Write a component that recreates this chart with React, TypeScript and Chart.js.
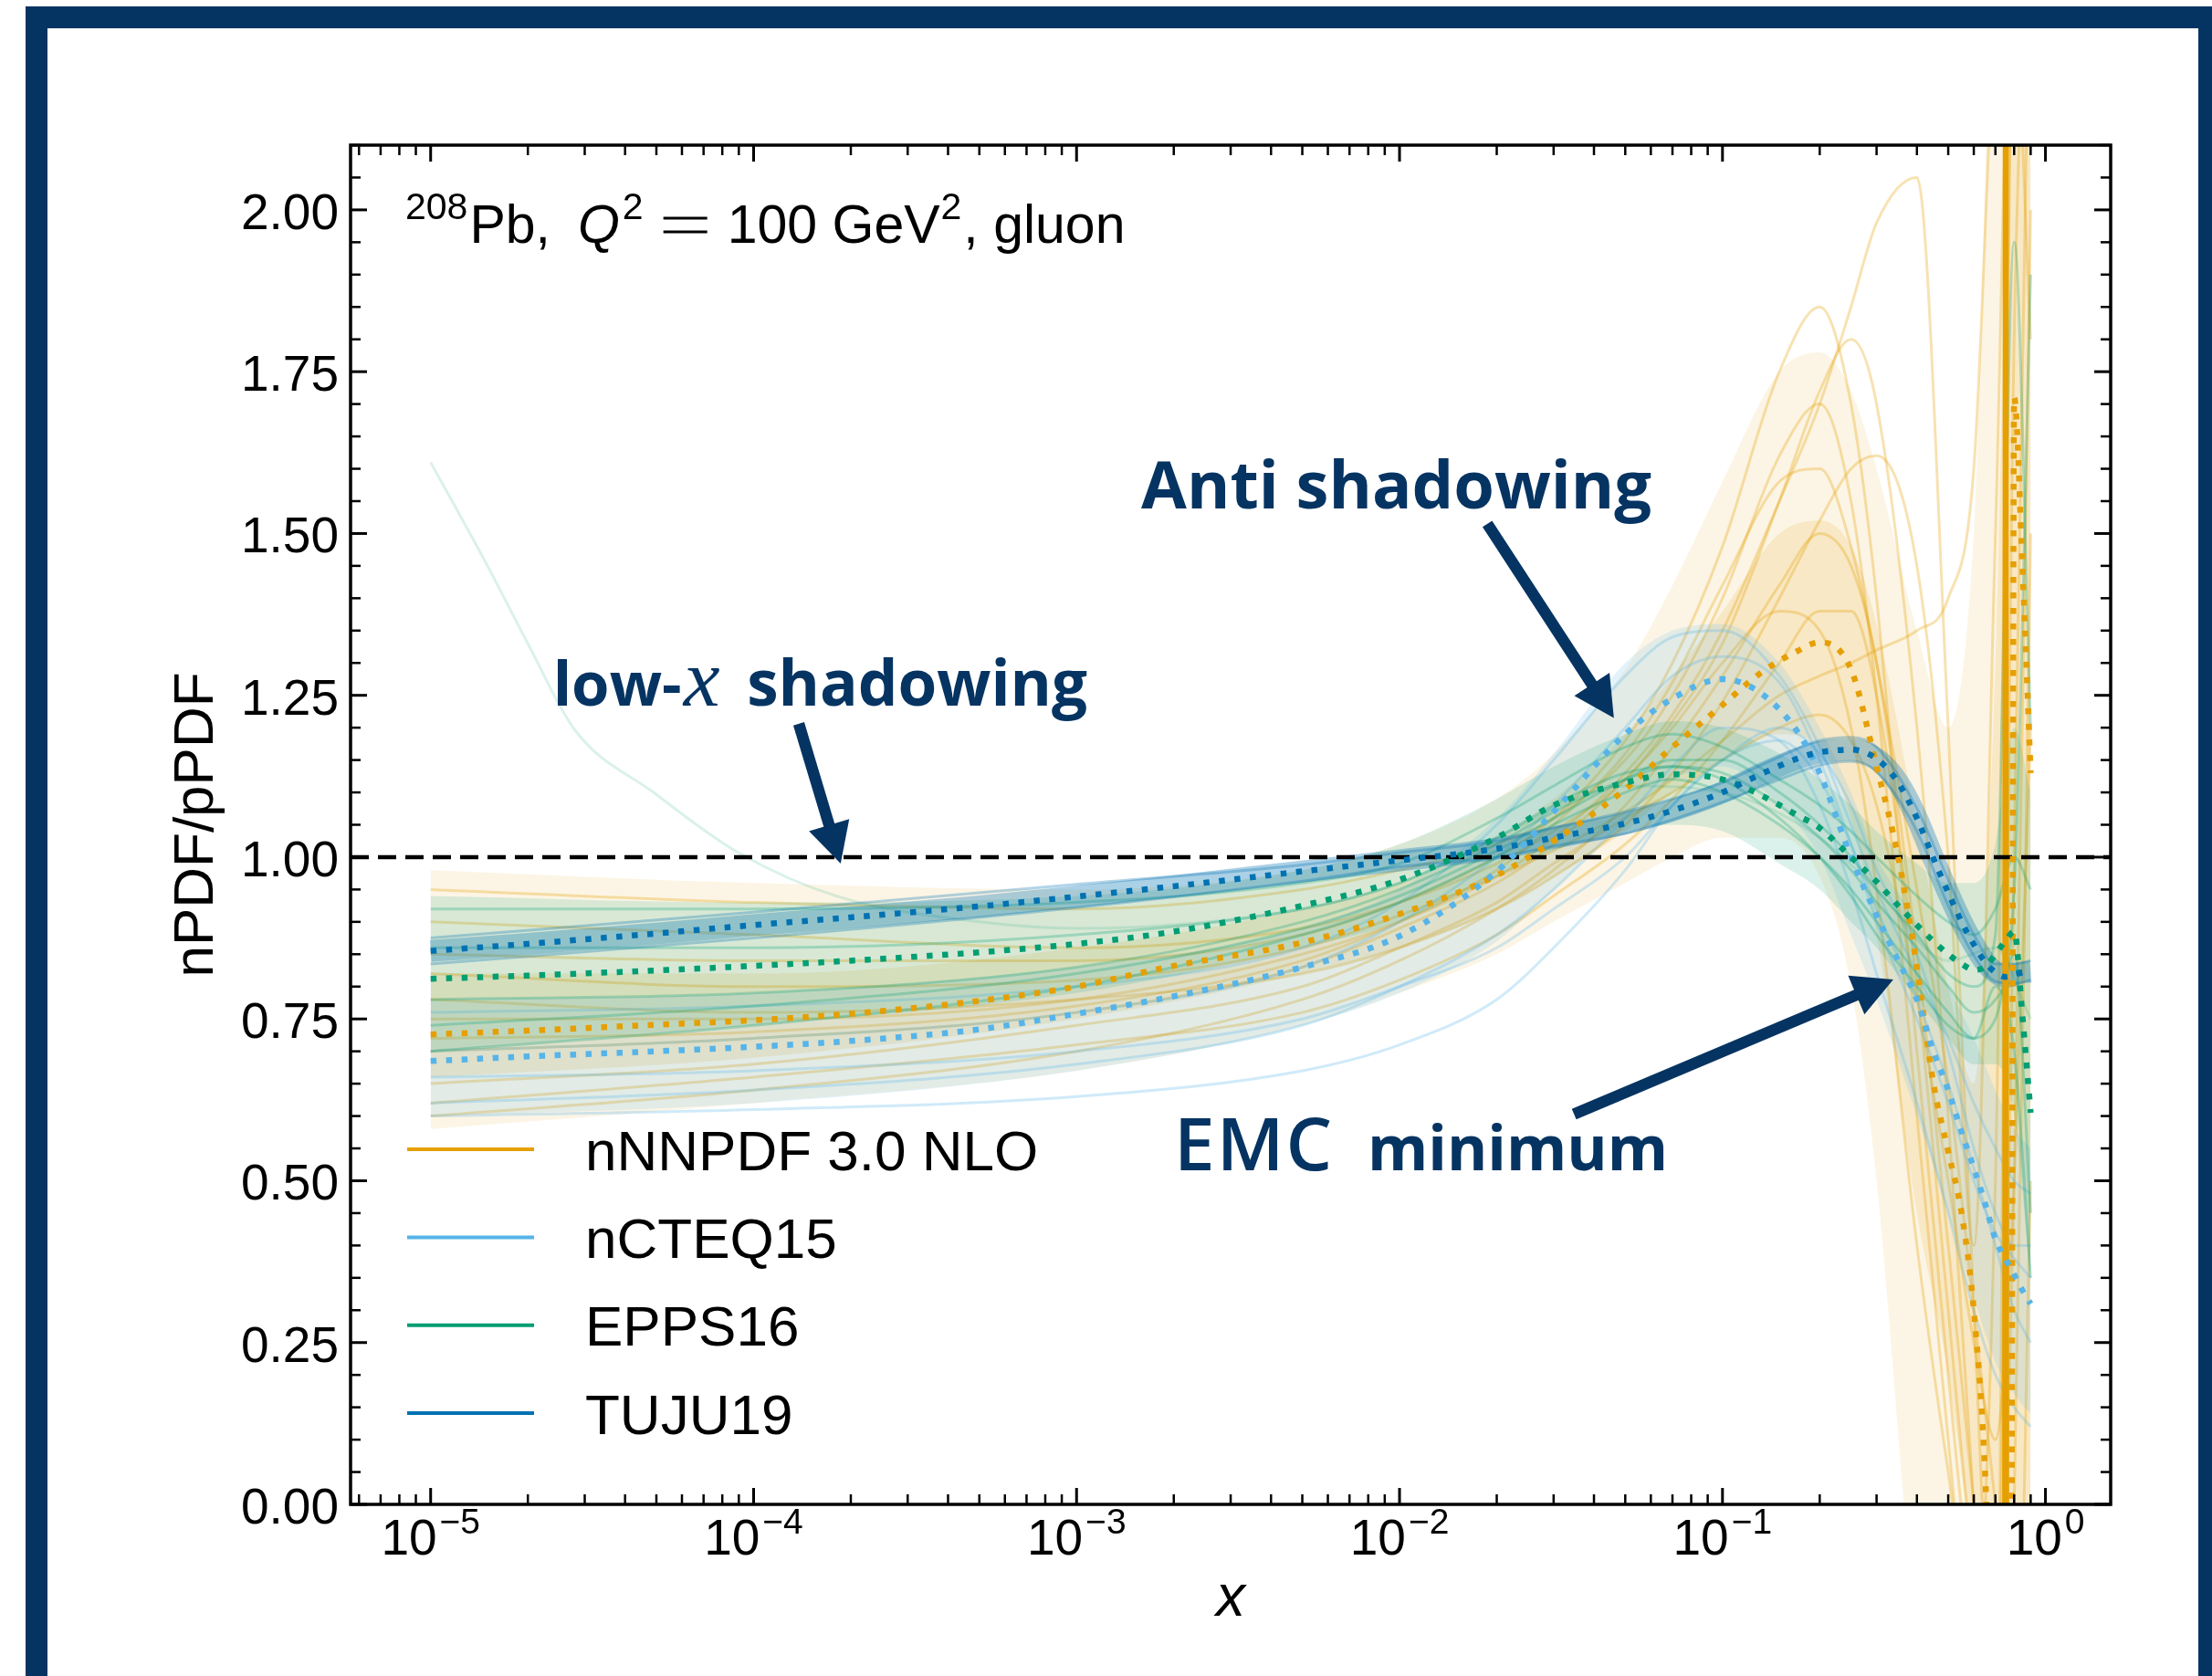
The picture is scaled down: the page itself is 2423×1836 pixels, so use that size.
import React, { useEffect, useRef } from "react";
import { Chart, registerables } from "chart.js";

Chart.register(...registerables);

// ---------------- axes ----------------
const X_AXIS_MIN = 5.65e-6;
const X_AXIS_MAX = 1.592;
const Y_AXIS_MIN = 0;
const Y_AXIS_MAX = 2.1;
const Y_MAJOR_TICKS = [0, 0.25, 0.5, 0.75, 1.0, 1.25, 1.5, 1.75, 2.0];
const Y_TICK_LABELS = ["0.00", "0.25", "0.50", "0.75", "1.00", "1.25", "1.50", "1.75", "2.00"];
const Y_MINOR_STEP = 0.05;
const X_MAJOR_EXPONENTS = [-5, -4, -3, -2, -1, 0];
const X_MINOR_MULTIPLIERS = [2, 3, 4, 5, 6, 7, 8, 9];
const REFERENCE_LEVEL = 1.0;

const SERIES_LABELS = ["nNNPDF 3.0 NLO", "nCTEQ15", "EPPS16", "TUJU19"];
const SERIES_RGB = ["230,159,0", "86,180,233", "0,158,115", "0,114,178"];

// ---------------- central values ----------------
const X_CENTRAL = [1e-5, 2e-5, 5e-5, 1e-4, 2e-4, 5e-4, 1e-3, 2e-3, 5e-3, 1e-2, 0.02, 0.03, 0.05, 0.07, 0.1, 0.13, 0.17, 0.2, 0.25, 0.3, 0.35, 0.4, 0.45, 0.5, 0.55, 0.6, 0.65, 0.7, 0.75, 0.8, 0.85, 0.9];
const X_NNPDF = [1e-5, 2e-5, 5e-5, 1e-4, 2e-4, 5e-4, 1e-3, 2e-3, 5e-3, 1e-2, 0.02, 0.03, 0.05, 0.07, 0.1, 0.13, 0.17, 0.2, 0.25, 0.3, 0.35, 0.4, 0.45, 0.5, 0.55, 0.6, 0.65, 0.7, 0.75, 0.78, 0.8, 0.85, 0.9];

const NNPDF_CENTRAL = [0.726, 0.732, 0.741, 0.748, 0.758, 0.778, 0.8, 0.832, 0.868, 0.912, 0.972, 1.025, 1.105, 1.17, 1.235, 1.283, 1.318, 1.332, 1.29, 1.14, 1.0, 0.83, 0.65, 0.545, 0.45, 0.3, 0.05, -0.4, -0.6, -0.6, 1.71, 1.44, 1.13];
const NCTEQ_CENTRAL = [0.685, 0.692, 0.7, 0.707, 0.716, 0.734, 0.758, 0.785, 0.83, 0.878, 0.978, 1.07, 1.19, 1.245, 1.275, 1.255, 1.195, 1.13, 1.0, 0.91, 0.84, 0.78, 0.7, 0.64, 0.575, 0.52, 0.465, 0.41, 0.38, 0.355, 0.33, 0.31];
const EPPS_CENTRAL = [0.812, 0.817, 0.825, 0.832, 0.84, 0.853, 0.866, 0.885, 0.925, 0.965, 1.03, 1.08, 1.115, 1.128, 1.12, 1.097, 1.065, 1.045, 1.0, 0.962, 0.925, 0.895, 0.87, 0.85, 0.835, 0.826, 0.83, 0.85, 0.87, 0.885, 0.75, 0.605];
const TUJU_CENTRAL = [0.855, 0.866, 0.882, 0.895, 0.907, 0.924, 0.939, 0.955, 0.978, 0.995, 1.013, 1.03, 1.052, 1.072, 1.1, 1.127, 1.152, 1.162, 1.166, 1.152, 1.115, 1.06, 0.998, 0.945, 0.9, 0.865, 0.838, 0.822, 0.815, 0.818, 0.822, 0.823];

// nNNPDF large-x spike of the solid line
const NNPDF_SPIKE_X = [0.748, 0.753, 0.758];
const NNPDF_SPIKE_Y = [-0.6, 2.7, -0.6];

// ---------------- replica grid, bands ----------------
const X_REP = [1e-5, 1e-4, 1e-3, 5e-3, 0.01, 0.02, 0.03, 0.05, 0.07, 0.1, 0.15, 0.2, 0.25, 0.3, 0.4, 0.5, 0.6, 0.7, 0.8, 0.9];

const NNPDF_OUTER_LO = [0.58, 0.62, 0.67, 0.74, 0.79, 0.85, 0.9, 0.96, 1.0, 1.03, 1.03, 0.97, 0.8, 0.5, -0.2, -0.4, -0.4, -0.4, -0.4, -0.4];
const NNPDF_OUTER_HI = [0.98, 0.96, 0.95, 0.98, 1.02, 1.09, 1.16, 1.29, 1.42, 1.58, 1.75, 1.78, 1.72, 1.6, 1.35, 1.2, 1.5, 2.4, 2.4, 2.4];
const NNPDF_INNER_LO = [0.66, 0.69, 0.75, 0.82, 0.86, 0.92, 0.97, 1.04, 1.1, 1.15, 1.19, 1.17, 1.06, 0.88, 0.45, 0.2, -0.1, -0.4, -0.4, -0.4];
const NNPDF_INNER_HI = [0.82, 0.82, 0.86, 0.92, 0.96, 1.03, 1.09, 1.19, 1.28, 1.38, 1.5, 1.52, 1.48, 1.36, 1.05, 0.8, 0.65, 1.3, 2.4, 2.2];
const NCTEQ_LO = [0.6, 0.62, 0.67, 0.74, 0.79, 0.87, 0.95, 1.06, 1.12, 1.14, 1.08, 1.0, 0.88, 0.78, 0.6, 0.45, 0.32, 0.22, 0.17, 0.14];
const NCTEQ_HI = [0.78, 0.79, 0.83, 0.89, 0.95, 1.06, 1.16, 1.3, 1.35, 1.36, 1.3, 1.2, 1.1, 1.0, 0.9, 0.8, 0.72, 0.64, 0.58, 0.55];
const EPPS_LO = [0.7, 0.74, 0.79, 0.86, 0.9, 0.97, 1.01, 1.04, 1.05, 1.04, 0.99, 0.95, 0.9, 0.86, 0.78, 0.72, 0.68, 0.68, 0.6, 0.35];
const EPPS_HI = [0.94, 0.93, 0.94, 0.98, 1.02, 1.09, 1.14, 1.19, 1.21, 1.2, 1.16, 1.12, 1.08, 1.04, 0.99, 0.96, 0.96, 1.02, 1.2, 1.1];

const NNPDF_REPLICAS = [
  [0.95, 0.93, 0.92, 0.95, 0.98, 1.02, 1.06, 1.15, 1.25, 1.4, 1.62, 1.7, 1.55, 1.25, 0.6, 0.1, -0.3, -0.5, 1.0, 2.5],
  [0.6, 0.64, 0.7, 0.78, 0.84, 0.92, 0.98, 1.08, 1.17, 1.28, 1.42, 1.5, 1.45, 1.3, 0.85, 0.4, 0.0, -0.4, 2.5, 2.5],
  [0.7, 0.72, 0.76, 0.83, 0.89, 0.96, 1.02, 1.12, 1.2, 1.3, 1.38, 1.35, 1.2, 0.95, 0.4, 0.05, -0.2, 0.5, 2.3, 1.8],
  [0.85, 0.84, 0.84, 0.88, 0.93, 1.0, 1.06, 1.18, 1.3, 1.48, 1.75, 1.85, 1.7, 1.4, 0.7, 0.2, -0.2, -0.5, -0.5, 0.5],
  [0.65, 0.68, 0.74, 0.8, 0.86, 0.93, 0.99, 1.06, 1.1, 1.15, 1.2, 1.22, 1.18, 1.08, 0.78, 0.5, 0.25, 0.1, 0.5, 1.2],
  [0.78, 0.76, 0.78, 0.82, 0.86, 0.92, 0.97, 1.05, 1.13, 1.24, 1.4, 1.52, 1.6, 1.62, 1.45, 1.0, 0.4, 1.5, 2.5, 2.5],
  [0.62, 0.66, 0.71, 0.76, 0.81, 0.88, 0.94, 1.02, 1.09, 1.18, 1.3, 1.38, 1.38, 1.25, 0.8, 0.3, -0.1, -0.3, 0.0, 1.5],
  [0.9, 0.88, 0.86, 0.89, 0.93, 0.99, 1.04, 1.12, 1.21, 1.33, 1.55, 1.72, 1.8, 1.7, 1.2, 0.6, 0.0, -0.4, 1.8, 2.5],
  [0.72, 0.73, 0.77, 0.84, 0.9, 0.98, 1.05, 1.16, 1.27, 1.42, 1.58, 1.6, 1.48, 1.3, 0.95, 0.65, 0.3, 0.0, -0.3, -0.3],
  [0.82, 0.8, 0.81, 0.86, 0.91, 0.97, 1.01, 1.07, 1.12, 1.18, 1.25, 1.28, 1.3, 1.32, 1.35, 1.4, 1.6, 2.3, 2.5, 2.5],
  [0.75, 0.75, 0.78, 0.85, 0.9, 0.97, 1.03, 1.13, 1.22, 1.35, 1.55, 1.7, 1.85, 1.98, 2.05, 1.2, 0.3, -0.3, 0.5, 2.0],
];
const NCTEQ_REPLICAS = [
  [0.62, 0.64, 0.68, 0.74, 0.8, 0.88, 0.95, 1.06, 1.14, 1.2, 1.18, 1.08, 0.95, 0.82, 0.62, 0.45, 0.3, 0.2, 0.15, 0.12],
  [0.76, 0.77, 0.8, 0.86, 0.93, 1.05, 1.15, 1.28, 1.34, 1.35, 1.28, 1.17, 1.05, 0.95, 0.82, 0.72, 0.62, 0.55, 0.5, 0.48],
  [0.7, 0.72, 0.76, 0.83, 0.9, 1.0, 1.08, 1.2, 1.28, 1.31, 1.27, 1.15, 1.02, 0.9, 0.75, 0.62, 0.5, 0.42, 0.38, 0.35],
  [0.66, 0.67, 0.7, 0.75, 0.8, 0.86, 0.92, 1.0, 1.08, 1.15, 1.2, 1.16, 1.08, 0.98, 0.85, 0.7, 0.55, 0.45, 0.4, 0.4],
  [0.6, 0.61, 0.63, 0.67, 0.71, 0.78, 0.86, 0.98, 1.08, 1.15, 1.18, 1.12, 1.02, 0.92, 0.78, 0.65, 0.52, 0.4, 0.3, 0.25],
];
const EPPS_REPLICAS = [
  [0.7, 0.74, 0.8, 0.88, 0.93, 1.0, 1.05, 1.1, 1.12, 1.1, 1.05, 1.0, 0.95, 0.9, 0.82, 0.76, 0.72, 0.75, 0.85, 0.45],
  [0.92, 0.92, 0.93, 0.96, 0.99, 1.06, 1.11, 1.17, 1.19, 1.17, 1.12, 1.08, 1.04, 1.0, 0.94, 0.9, 0.88, 0.92, 1.0, 0.95],
  [0.78, 0.79, 0.83, 0.9, 0.95, 1.02, 1.07, 1.12, 1.14, 1.13, 1.08, 1.03, 0.98, 0.93, 0.86, 0.8, 0.76, 0.78, 0.95, 1.9],
  [0.86, 0.86, 0.88, 0.92, 0.96, 1.03, 1.08, 1.13, 1.14, 1.12, 1.06, 1.0, 0.94, 0.88, 0.8, 0.74, 0.72, 0.8, 0.7, 0.35],
  [0.74, 0.77, 0.82, 0.89, 0.94, 1.01, 1.06, 1.12, 1.15, 1.15, 1.1, 1.05, 1.0, 0.95, 0.88, 0.82, 0.8, 0.88, 1.95, 1.2],
];
// one EPPS16 replica rising steeply towards small x
const EPPS_STEEP_X = [1e-5, 1.5e-5, 2e-5, 2.8e-5, 4.9e-5, 8.9e-5, 1.8e-4, 5e-4, 1e-3, 5e-3, 0.01, 0.02, 0.05, 0.1, 0.2, 0.3, 0.5, 0.7, 0.9];
const EPPS_STEEP_Y = [1.61, 1.45, 1.33, 1.196, 1.1, 1.008, 0.94, 0.9, 0.89, 0.92, 0.96, 1.03, 1.11, 1.1, 1.03, 0.95, 0.84, 0.86, 0.75];
const TUJU_REPLICAS = [
  [0.875, 0.915, 0.958, 0.988, 1.007, 1.025, 1.045, 1.07, 1.09, 1.115, 1.155, 1.18, 1.185, 1.17, 1.075, 0.965, 0.88, 0.835, 0.835, 0.84],
  [0.835, 0.875, 0.922, 0.963, 0.985, 1.0, 1.017, 1.037, 1.058, 1.085, 1.12, 1.142, 1.148, 1.132, 1.04, 0.925, 0.848, 0.808, 0.805, 0.81],
];

// ---------------- annotations (data coordinates) ----------------
const ANNOT_ANTI = { x: 1.586e-3, y: 1.538 };
const ANNOT_LOWX = { x: 2.391e-5, y: 1.2345 };
const ANNOT_EMC = { x: 2.004e-3, y: 0.5155 };
const ARROWS = [
  { from: [1.38e-4, 1.206], to: [1.86e-4, 0.99] },
  { from: [0.0187, 1.515], to: [0.0461, 1.215] },
  { from: [0.0347, 0.603], to: [0.338, 0.811] },
];

const DARK = "#063462";
const SANS = '"Liberation Sans", Arial, Helvetica, sans-serif';
const BOLD = '"Open Sans", "Noto Sans", sans-serif';

const rgba = (rgb: string, a: number) => `rgba(${rgb},${a})`;
const toPoints = (xs: number[], ys: number[]) => xs.map((x, i) => ({ x, y: ys[i] }));

function buildDatasets() {
  const ds: any[] = [];
  const line = (xs: number[], ys: number[], color: string, width: number, extra: any = {}) => ({
    data: toPoints(xs, ys),
    borderColor: color,
    borderWidth: width,
    fill: false,
    cubicInterpolationMode: "monotone",
    pointRadius: 0,
    clip: 0,
    ...extra,
  });
  const band = (xs: number[], lo: number[], hi: number[], color: string) => {
    ds.push(line(xs, lo, "rgba(0,0,0,0)", 0));
    ds.push(line(xs, hi, "rgba(0,0,0,0)", 0, { fill: "-1", backgroundColor: color }));
  };
  const [O, LB, G, B] = SERIES_RGB;

  band(X_REP, NNPDF_OUTER_LO, NNPDF_OUTER_HI, rgba(O, 0.1));
  band(X_REP, NNPDF_INNER_LO, NNPDF_INNER_HI, rgba(O, 0.14));
  NNPDF_REPLICAS.forEach((r) => ds.push(line(X_REP, r, rgba(O, 0.3), 3)));

  band(X_REP, NCTEQ_LO, NCTEQ_HI, rgba(LB, 0.16));
  NCTEQ_REPLICAS.forEach((r) => ds.push(line(X_REP, r, rgba(LB, 0.28), 3)));

  band(X_REP, EPPS_LO, EPPS_HI, rgba(G, 0.14));
  EPPS_REPLICAS.forEach((r) => ds.push(line(X_REP, r, rgba(G, 0.28), 3)));
  ds.push(line(EPPS_STEEP_X, EPPS_STEEP_Y, rgba(G, 0.14), 3));

  ds.push(line(X_CENTRAL, TUJU_CENTRAL, rgba(B, 0.33), 24));
  TUJU_REPLICAS.forEach((r) => ds.push(line(X_REP, r, rgba(B, 0.3), 3)));

  ds.push(line(NNPDF_SPIKE_X, NNPDF_SPIKE_Y, rgba(O, 1), 6, { cubicInterpolationMode: "default", tension: 0 }));

  ds.push(
    line([X_AXIS_MIN, X_AXIS_MAX], [REFERENCE_LEVEL, REFERENCE_LEVEL], "#000", 4.5, {
      borderDash: [20, 10],
      cubicInterpolationMode: "default",
      tension: 0,
    })
  );

  const dotted = { borderDash: [6.5, 10.5], borderCapStyle: "butt" };
  ds.push(line(X_NNPDF, NNPDF_CENTRAL, rgba(O, 1), 6.5, dotted));
  ds.push(line(X_CENTRAL, NCTEQ_CENTRAL, rgba(LB, 1), 6.5, dotted));
  ds.push(line(X_CENTRAL, EPPS_CENTRAL, rgba(G, 1), 6.5, dotted));
  ds.push(line(X_CENTRAL, TUJU_CENTRAL, rgba(B, 1), 6.5, dotted));

  ds.forEach((d, i) => (d.order = ds.length - i));
  return ds;
}

function fitText(ctx: CanvasRenderingContext2D, text: string, x: number, y: number, width: number, font: (s: number) => string, base: number) {
  ctx.font = font(base);
  const w = ctx.measureText(text).width;
  let s = (base * width) / w;
  s = Math.max(base * 0.85, Math.min(base * 1.15, s));
  ctx.font = font(s);
  ctx.fillText(text, x, y);
}

function drawArrow(ctx: CanvasRenderingContext2D, x0: number, y0: number, x1: number, y1: number) {
  const ang = Math.atan2(y1 - y0, x1 - x0);
  const headLen = 44, headHalf = 23, shaft = 12.5;
  const c = Math.cos(ang), s = Math.sin(ang);
  const bx = x1 - headLen * c, by = y1 - headLen * s;
  ctx.strokeStyle = DARK;
  ctx.lineWidth = shaft;
  ctx.lineCap = "butt";
  ctx.beginPath();
  ctx.moveTo(x0, y0);
  ctx.lineTo(bx + 2 * c, by + 2 * s);
  ctx.stroke();
  ctx.fillStyle = DARK;
  ctx.beginPath();
  ctx.moveTo(x1, y1);
  ctx.lineTo(bx + headHalf * s, by - headHalf * c);
  ctx.lineTo(bx - headHalf * s, by + headHalf * c);
  ctx.closePath();
  ctx.fill();
}

const decorations = {
  id: "decorations",
  afterDraw(chart: any) {
    const { ctx, chartArea: ca, scales } = chart;
    const sx = scales.x, sy = scales.y;
    ctx.save();
    ctx.strokeStyle = "#000";
    ctx.lineCap = "butt";
    const tick = (x1: number, y1: number, x2: number, y2: number, w: number) => {
      ctx.lineWidth = w;
      ctx.beginPath();
      ctx.moveTo(x1, y1);
      ctx.lineTo(x2, y2);
      ctx.stroke();
    };
    // y ticks
    const nMinor = Math.round((Y_AXIS_MAX - Y_AXIS_MIN) / Y_MINOR_STEP);
    for (let i = 0; i <= nMinor; i++) {
      const v = Y_AXIS_MIN + i * Y_MINOR_STEP;
      const y = sy.getPixelForValue(v);
      const major = Y_MAJOR_TICKS.some((t) => Math.abs(t - v) < 1e-6);
      const len = major ? 18 : 11;
      const w = major ? 3 : 2.5;
      tick(ca.left, y, ca.left + len, y, w);
      tick(ca.right, y, ca.right - len, y, w);
    }
    // x ticks
    for (let e = -6; e <= 0; e++) {
      for (const m of [1, ...X_MINOR_MULTIPLIERS]) {
        const v = m * Math.pow(10, e);
        if (v < X_AXIS_MIN || v > X_AXIS_MAX) continue;
        const x = sx.getPixelForValue(v);
        const major = m === 1;
        const len = major ? 18 : 11;
        const w = major ? 3 : 2.5;
        tick(x, ca.bottom, x, ca.bottom - len, w);
        tick(x, ca.top, x, ca.top + len, w);
      }
    }
    // spines
    ctx.lineWidth = 3.5;
    ctx.strokeRect(ca.left, ca.top, ca.right - ca.left, ca.bottom - ca.top);

    // y tick labels
    ctx.fillStyle = "#000";
    ctx.font = `55px ${SANS}`;
    ctx.textAlign = "right";
    ctx.textBaseline = "alphabetic";
    Y_MAJOR_TICKS.forEach((v, i) => ctx.fillText(Y_TICK_LABELS[i], ca.left - 13, sy.getPixelForValue(v) + 21));

    // x tick labels
    ctx.textAlign = "left";
    X_MAJOR_EXPONENTS.forEach((e) => {
      const x = sx.getPixelForValue(Math.pow(10, e));
      ctx.font = `55px ${SANS}`;
      const w1 = ctx.measureText("10").width;
      const sup = e < 0 ? "\u2212" + Math.abs(e) : String(e);
      ctx.font = `39px ${SANS}`;
      const w2 = ctx.measureText(sup).width;
      const x0 = x - (w1 + 3 + w2) / 2;
      ctx.font = `55px ${SANS}`;
      ctx.fillText("10", x0, ca.bottom + 55);
      ctx.font = `39px ${SANS}`;
      ctx.fillText(sup, x0 + w1 + 3, ca.bottom + 32);
    });

    // axis titles
    ctx.font = `italic 64px ${SANS}`;
    ctx.textAlign = "center";
    ctx.fillText("x", (ca.left + ca.right) / 2, ca.bottom + 122);
    ctx.save();
    ctx.translate(ca.left - 151, (ca.top + ca.bottom) / 2);
    ctx.rotate(-Math.PI / 2);
    ctx.font = `62px ${SANS}`;
    ctx.fillText("nPDF/pPDF", 0, 0);
    ctx.restore();

    // legend
    ctx.textAlign = "left";
    SERIES_LABELS.forEach((lab, i) => {
      const y = ca.bottom - 100 - (SERIES_LABELS.length - 1 - i) * 96.3;
      ctx.strokeStyle = rgba(SERIES_RGB[i], 1);
      ctx.lineWidth = 4;
      ctx.beginPath();
      ctx.moveTo(ca.left + 62, y);
      ctx.lineTo(ca.left + 201, y);
      ctx.stroke();
      ctx.fillStyle = "#000";
      ctx.font = `62px ${SANS}`;
      ctx.fillText(lab, ca.left + 257, y + 22.5);
    });

    // title text inside axes
    const tx = ca.left + 60, tb = ca.top + 107, ts = ca.top + 81;
    ctx.fillStyle = "#000";
    ctx.textAlign = "left";
    let cx = tx;
    const put = (t: string, font: string, y: number, gapAfter: number) => {
      ctx.font = font;
      ctx.fillText(t, cx, y);
      cx += ctx.measureText(t).width + gapAfter;
    };
    const MAIN = `59px ${SANS}`;
    const SUP = `41px ${SANS}`;
    put("208", SUP, ts, 2);
    put("Pb,", MAIN, tb, 30);
    put("Q", `italic 59px ${SANS}`, tb, 3);
    put("2", SUP, ts, 22);
    // equals sign as two bars
    ctx.strokeStyle = "#000";
    ctx.lineWidth = 3;
    ctx.beginPath();
    ctx.moveTo(cx, tb - 27);
    ctx.lineTo(cx + 48, tb - 27);
    ctx.moveTo(cx, tb - 12);
    ctx.lineTo(cx + 48, tb - 12);
    ctx.stroke();
    cx += 48 + 22;
    put("100 GeV", MAIN, tb, 1);
    put("2", SUP, ts, 2);
    put(", gluon", MAIN, tb, 0);

    // annotations
    const bold = (s: number) => `700 ${s}px ${BOLD}`;
    const serifIt = (s: number) => `italic ${s}px "Liberation Serif", "DejaVu Serif", serif`;
    ctx.fillStyle = DARK;
    ctx.textAlign = "left";
    let ax = sx.getPixelForValue(ANNOT_ANTI.x), ay = sy.getPixelForValue(ANNOT_ANTI.y);
    fitText(ctx, "Anti shadowing", ax, ay, 559, bold, 72);
    ax = sx.getPixelForValue(ANNOT_LOWX.x);
    ay = sy.getPixelForValue(ANNOT_LOWX.y);
    fitText(ctx, "low-", ax, ay, 141, bold, 70);
    fitText(ctx, "x", ax + 143, ay, 41, serifIt, 78);
    fitText(ctx, "shadowing", ax + 212.5, ay, 373, bold, 70);
    ax = sx.getPixelForValue(ANNOT_EMC.x);
    ay = sy.getPixelForValue(ANNOT_EMC.y);
    ctx.font = `600 80px ${BOLD}`;
    (ctx as any).letterSpacing = "2px";
    ctx.fillText("EMC", ax, ay);
    (ctx as any).letterSpacing = "0px";
    fitText(ctx, "minimum", ax + 212, ay, 329, bold, 72);

    ARROWS.forEach((a) => {
      drawArrow(
        ctx,
        sx.getPixelForValue(a.from[0]),
        sy.getPixelForValue(a.from[1]),
        sx.getPixelForValue(a.to[0]),
        sy.getPixelForValue(a.to[1])
      );
    });
    ctx.restore();
  },
};

export default function App() {
  const ref = useRef<HTMLCanvasElement>(null);
  useEffect(() => {
    const canvas = ref.current!;
    const chart = new Chart(canvas, {
      type: "line",
      data: { datasets: buildDatasets() },
      options: {
        animation: false,
        responsive: false,
        maintainAspectRatio: false,
        devicePixelRatio: 1,
        events: [],
        layout: { padding: { left: 384, right: 111, top: 159, bottom: 188 } },
        elements: { point: { radius: 0, hoverRadius: 0 } },
        scales: {
          x: { type: "logarithmic", min: X_AXIS_MIN, max: X_AXIS_MAX, display: false },
          y: { type: "linear", min: Y_AXIS_MIN, max: Y_AXIS_MAX, display: false },
        },
        plugins: { legend: { display: false }, tooltip: { enabled: false } },
      } as any,
      plugins: [decorations],
    });
    return () => chart.destroy();
  }, []);
  return (
    <div style={{ position: "fixed", left: 0, top: 0, width: 2423, height: 1836, overflow: "hidden", background: "#fff" }}>
      <div
        style={{
          position: "absolute",
          left: 28,
          top: 7,
          width: 2404,
          height: 1900,
          border: "24px solid #063462",
          boxSizing: "border-box",
        }}
      />
      <canvas ref={ref} width={2423} height={1836} style={{ position: "absolute", left: 0, top: 0, width: 2423, height: 1836 }} />
    </div>
  );
}
